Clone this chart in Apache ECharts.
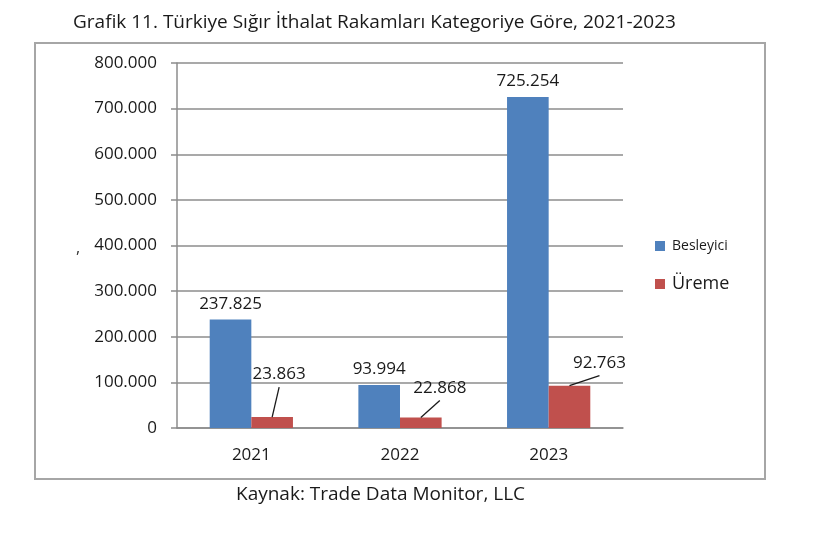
<!DOCTYPE html>
<html>
<head>
<meta charset="utf-8">
<script src="https://cdn.jsdelivr.net/npm/echarts@6/dist/echarts.min.js"></script>
<style>
html,body{margin:0;padding:0;background:#fff;}
#c{width:834px;height:553px;}
</style>
</head>
<body>
<div id="c"></div>
<script>
var categories = ['2021', '2022', '2023'];
var besleyici = [237825, 93994, 725254];
var ureme = [23863, 22868, 92763];
var yTicks = [0, 100000, 200000, 300000, 400000, 500000, 600000, 700000, 800000];
var titleText = 'Grafik 11. Türkiye Sığır İthalat Rakamları Kategoriye Göre, 2021-2023';
var sourceText = 'Kaynak: Trade Data Monitor, LLC';

var uremeLabelShift = [[7, -25], [19, -12], [30, -5]];
var CAT_GAP = 0.44;
var LABEL_DIST = 9;

function fmt(v) {
  return String(v).replace(/\B(?=(\d{3})+(?!\d))/g, '.');
}

var FONT = '"Open Sans", "Noto Sans", sans-serif';
var chart = echarts.init(document.getElementById('c'));
chart.setOption({
  animation: false,
  textStyle: { fontFamily: FONT },
  title: {
    text: titleText,
    left: 68, top: 8,
    textStyle: { fontSize: 19, fontWeight: 'normal', color: '#1a1a1a', fontFamily: FONT }
  },
  graphic: [
    { type: 'rect', shape: { x: 35, y: 43, width: 730, height: 436 },
      style: { fill: 'none', stroke: '#a6a6a6', lineWidth: 2 }, z: -1 },
    { type: 'text', left: 236, top: 485,
      style: { text: sourceText, fontSize: 19, fill: '#1a1a1a', fontFamily: FONT } },
    { type: 'text', left: 76, top: 240,
      style: { text: ',', fontSize: 16, fill: '#333', fontFamily: FONT } }
  ],
  legend: [
    { data: ['Besleyici'], left: 650, top: 234, itemWidth: 10, itemHeight: 10, itemGap: 6,
      icon: 'rect', textStyle: { fontSize: 14, color: '#1a1a1a', fontFamily: FONT, padding: [0, 0, 0, 2] } },
    { data: ['Üreme'], left: 650, top: 270, itemWidth: 10, itemHeight: 10, itemGap: 6,
      icon: 'rect', textStyle: { fontSize: 18, color: '#1a1a1a', fontFamily: FONT, padding: [0, 0, 0, 2] } }
  ],
  grid: { left: 177, right: 211, top: 63, bottom: 125 },
  xAxis: {
    type: 'category',
    data: categories,
    axisLine: { lineStyle: { color: '#8c8c8c', width: 1.5 } },
    axisTick: { show: false },
    axisLabel: { fontSize: 17, color: '#1a1a1a', margin: 19, fontFamily: FONT }
  },
  yAxis: {
    type: 'value',
    min: yTicks[0], max: yTicks[yTicks.length - 1], interval: yTicks[1] - yTicks[0],
    axisLine: { show: true, lineStyle: { color: '#8c8c8c', width: 1.5 } },
    axisTick: { show: true, length: 6, lineStyle: { color: '#8c8c8c', width: 1.5 } },
    splitLine: { lineStyle: { color: '#8c8c8c', width: 1.5 } },
    axisLabel: { fontSize: 17, color: '#1a1a1a', margin: 20, fontFamily: FONT,
      formatter: function (v) { return fmt(v); } }
  },
  series: [
    {
      name: 'Besleyici', type: 'bar', data: besleyici,
      barGap: '0%', barCategoryGap: (CAT_GAP * 100) + '%',
      itemStyle: { color: '#4f81bd' },
      label: { show: true, position: 'top', distance: 7, fontSize: 17, color: '#1a1a1a',
        fontFamily: FONT, formatter: function (p) { return fmt(p.value); } }
    },
    {
      name: 'Üreme', type: 'bar', data: ureme,
      itemStyle: { color: '#c0504d' },
      label: { show: true, position: 'top', distance: LABEL_DIST, fontSize: 17, color: '#1a1a1a',
        fontFamily: FONT, formatter: function (p) { return fmt(p.value); } },
      labelLayout: function (p) {
        var s = uremeLabelShift[p.dataIndex];
        return { dx: s[0], dy: s[1] };
      }
    },
    {
      name: 'leader', type: 'custom', silent: true, z: 5,
      data: ureme.map(function (v, i) { return [i, v]; }),
      encode: { x: 0, y: 1 },
      renderItem: function (params, api) {
        var i = api.value(0);
        var top = api.coord([i, api.value(1)]);
        var band = api.size([1, 0])[0];
        var barW = band * (1 - CAT_GAP) / 2;
        var x0 = top[0] + barW / 2;
        var y0 = top[1];
        var s = uremeLabelShift[params.dataIndex];
        var x1 = x0 + s[0];
        var y1 = y0 - LABEL_DIST + s[1] + 4;
        return {
          type: 'line',
          shape: { x1: x0, y1: y0, x2: x1, y2: y1 },
          style: { stroke: '#1a1a1a', lineWidth: 1.3 }
        };
      }
    }
  ]
});
</script>
</body>
</html>
